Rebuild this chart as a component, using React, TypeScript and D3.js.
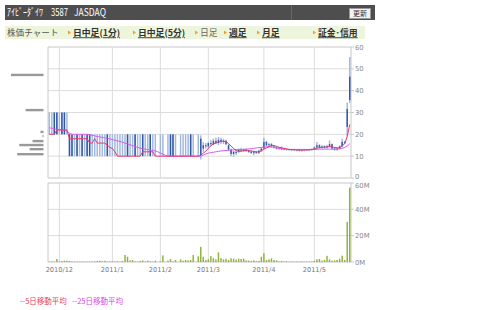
import React from "react";
import * as d3 from "d3";

const tradingDays: [string, number[]][] = [
  ["2010/11", [25, 26, 29, 30]],
  ["2010/12", [1, 2, 3, 6, 7, 8, 9, 10, 13, 14, 15, 16, 17, 20, 21, 22, 24, 27, 28, 29, 30]],
  ["2011/1", [4, 5, 6, 7, 11, 12, 13, 14, 17, 18, 19, 20, 21, 24, 25, 26, 27, 28, 31]],
  ["2011/2", [1, 2, 3, 4, 7, 8, 9, 10, 14, 15, 16, 17, 18, 21, 22, 23, 24, 25, 28]],
  ["2011/3", [1, 2, 3, 4, 7, 8, 9, 10, 11, 14, 15, 16, 17, 18, 22, 23, 24, 25, 28, 29, 30, 31]],
  ["2011/4", [1, 4, 5, 6, 7, 8, 11, 12, 13, 14, 15, 18, 19, 20, 21, 22, 25, 26, 27, 28]],
  ["2011/5", [2, 6, 9, 10, 11, 12, 13, 16, 17, 18, 19, 20, 23, 24, 25]],
];

// [open, high, low, close]
const ohlc: ([number, number, number, number] | null)[] = [
  [20, 30, 20, 20], [20, 30, 20, 20], [30, 30, 20, 20], [30, 30, 20, 20], [20, 30, 20, 20], [30, 30, 20, 20], [30, 30, 20, 20], [20, 30, 20, 20],
  [20, 20, 10, 10], [20, 20, 10, 10], [10, 20, 10, 10], [20, 20, 10, 10], [10, 20, 10, 10], [20, 20, 10, 10], [10, 20, 10, 10], [20, 20, 10, 10], [20, 20, 10, 10], [10, 20, 10, 10],
  [10, 20, 10, 10], [10, 20, 10, 10], [10, 20, 10, 10], [10, 20, 10, 10], [10, 20, 10, 10], [20, 20, 10, 10], [10, 20, 10, 10], [10, 20, 10, 10], [10, 20, 10, 10], [10, 20, 10, 10],
  [10, 20, 10, 10], [10, 20, 10, 10], [10, 20, 10, 10], [20, 20, 10, 10], [10, 20, 10, 10], [10, 20, 10, 10], [20, 20, 10, 10], [10, 20, 10, 10], [10, 20, 10, 10], [20, 20, 10, 10],
  [10, 20, 10, 10], [10, 20, 10, 10], [20, 20, 10, 10], [10, 20, 10, 10], [10, 20, 10, 10], null, [10, 20, 10, 10], [10, 20, 10, 10], null, [10, 20, 10, 10],
  [20, 20, 10, 10], [20, 20, 10, 10], [10, 20, 10, 10], null, [10, 20, 10, 10], [10, 20, 10, 10], [10, 20, 10, 10], [10, 20, 10, 10], [20, 20, 10, 10], [10, 20, 10, 10],
  null, [10, 20, 10, 10],
  [18, 19.5, 8.5, 10.5],
  [13.5, 16.5, 12, 15], [15, 16, 13.5, 14.5], [14.5, 16.5, 13.5, 16], [16, 17.5, 14.5, 15.5], [15.5, 18, 15, 17], [17, 18.5, 15.5, 16], [16, 18.8, 15, 17.5], [17.5, 18.5, 15.5, 16.5], [16.5, 18, 15.5, 17],
  [17, 17.5, 15, 15.5], [15, 15.5, 12.5, 13], [13, 13.5, 10, 11], [11, 12.5, 9.8, 12], [12, 13, 10.5, 11.5], [12, 13.5, 11.5, 13], [13, 13.8, 12, 12.5], [12.5, 13.5, 12, 13], [13, 13.5, 12, 12.5], [12.5, 13, 11.5, 12],
  [12, 12.8, 11, 11.5], [11.5, 12.5, 10.5, 12], [12, 12.5, 11, 11.5], [11.5, 13, 11, 12.5], [12.5, 14, 12, 13.5], [13.5, 18.5, 13, 16.5], [16.5, 17, 14.5, 15], [15, 16, 14, 15.5], [15.5, 16, 14, 14.5], [14.5, 15, 13.5, 14],
  [14, 14.5, 13, 13.5], [13.5, 14.2, 13, 13.2], [13.2, 14.5, 12.8, 13.5], [13.5, 13.8, 12.8, 13], [13, 13.5, 12.5, 13], [13, 13.2, 12.5, 12.8], [12.8, 13.2, 12.3, 13], [13, 13.2, 12.5, 12.7], [12.7, 13, 12.2, 12.8], [12.8, 13.2, 12.2, 12.5],
  [12.5, 13, 12.2, 12.8], [12.8, 13.2, 12.3, 13], [13, 13.2, 12.5, 12.8], [12.8, 13.2, 12.3, 13], [13, 13.5, 12.5, 13.2], [13.2, 14.5, 12.8, 14], [14, 16.5, 13.5, 15], [15, 15.5, 13.5, 14], [14, 15, 13.5, 14.5], [14.5, 15, 13.5, 14],
  [14, 15.2, 13.5, 14.5], [14.5, 17.2, 14, 15.5], [15.5, 15.8, 13, 13.5], [13.5, 14.2, 12.5, 13], [13, 14, 12.5, 13.5], [13.5, 15, 13, 14.5], [14.5, 18, 14, 16.5], [16.5, 17, 15.5, 16], [23.4, 34.5, 18.9, 31.6], [35.7, 55.4, 34.4, 46.4],
];

// volume in millions of shares
const volumeM: number[] = [
  0.3, 0.4, 0.3, 2.3, 0.4, 0.6, 1.0, 1.0, 0.8, 0.5,
  0.4, 0.3, 0.3, 0.4, 0.3, 0.3, 0.4, 0.3, 0.5, 0.8,
  1.0, 0.6, 0.9, 0.4, 0.5, 0.6, 0.4, 0.5, 0.3, 0.8,
  5.3, 4.0, 1.2, 1.5, 0.5, 0.3, 0.8, 1.2, 0.4, 1.0,
  0.6, 0.3, 1.0, 0, 0.5, 5.0, 0, 1.0, 2.2, 0.5,
  1.5, 0, 2.0, 1.0, 1.5, 1.2, 1.5, 5.3, 0, 4.3,
  11.5, 4.0, 1.5, 2.0, 4.5, 3.0, 2.0, 7.3, 3.0, 2.0,
  2.5, 1.5, 2.8, 2.5, 1.8, 2.5, 2.3, 2.5, 1.2, 1.0,
  0.8, 1.2, 0.6, 0.8, 4.0, 6.6, 1.5, 2.0, 2.8, 1.5,
  1.2, 0.5, 0.8, 0.4, 0.5, 0.3, 0.4, 0.3, 0.4, 0.3,
  0.5, 0.3, 0.4, 0.3, 0.5, 0.8, 2.0, 2.3, 1.0, 1.5,
  4.7, 2.0, 1.0, 1.2, 1.5, 2.5, 4.8, 1.5, 30.5, 56.5,
];

const ma5: number[] = [
  20, 20, 20, 22, 22, 22, 22, 22, 18, 18,
  18, 18, 18, 18, 18, 18, 16, 16, 18, 16,
  16, 16, 16, 15, 14, 13.5, 12, 10, 10, 10,
  10, 10, 10, 10, 10, 10, 10, 12, 12, 12,
  12, 12, 10, 10, 10, 10, 10, 10, 10, 10,
  10, 10, 10, 10, 10, 10, 10, 10, 10, 10,
  10.4, 11.4, 12.3, 13.5, 14.8, 15.6, 16, 16.5, 16.7, 16.9,
  16.6, 15.8, 14.6, 13.5, 12.6, 12.2, 12.3, 12.5, 12.6, 12.5,
  12.3, 12.2, 11.9, 12, 12.4, 13.2, 13.8, 14.3, 14.9, 14.9,
  14.5, 14.1, 13.8, 13.6, 13.3, 13.1, 13, 12.9, 12.9, 12.8,
  12.8, 12.8, 12.8, 12.9, 13, 13.3, 13.7, 13.9, 14, 14.1,
  14.2, 14.4, 14.2, 14, 13.8, 13.9, 14.7, 15.7, 19, 24.5,
];

const ma25: number[] = [
  23, 22.8, 22.5, 22.3, 22.1, 22, 22, 21.5, 20.5, 20,
  20, 20, 20, 20, 20, 20, 19.8, 19.6, 19.3, 19,
  18.8, 18.6, 18.4, 18.2, 17.9, 17.6, 17.3, 17, 16.7, 16.4,
  16, 15.6, 15.2, 14.8, 14.4, 14, 13.7, 13.4, 13.2, 13,
  12.8, 12.6, 12.4, 12, 11.4, 10.9, 10.4, 10, 10, 10,
  10, 10, 10, 10, 10, 10, 10, 10, 10, 10,
  10, 10.5, 11, 11.4, 11.6, 11.8, 12, 12.2, 12.4, 12.5,
  12.6, 12.7, 12.8, 12.9, 13, 13, 13.1, 13.1, 13.2, 13.3,
  13.4, 13.6, 13.8, 13.9, 14, 14.2, 14.3, 14.3, 14.2, 14,
  13.8, 13.6, 13.4, 13.3, 13.2, 13.1, 13.1, 13.1, 13.1, 13.1,
  13.1, 13.1, 13.1, 13.1, 13.1, 13.1, 13.1, 13.2, 13.2, 13.2,
  13.2, 13.2, 13.2, 13.2, 13.3, 13.4, 13.6, 14, 14.7, 15.7,
];

const priceTicks = [0, 10, 20, 30, 40, 50, 60];
const volumeTicks = [0, 20, 40, 60];

// volume by price (price level, volume in millions)
const vbpPrice = [47.2, 31.1, 21.1, 19.2, 16.9, 15.1, 13.2, 10.9];
const vbpVolume = [56.5, 31, 5.2, 1.7, 19, 42, 24, 45.6];

const titleParts = [
  { text: "ｱｲﾋﾞｰﾀﾞｲﾜ", x: 7, len: 36 },
  { text: "3587", x: 51, len: 17 },
  { text: "JASDAQ", x: 74, len: 32 },
];
const navItems = [
  { label: "日中足(1分)", x: 68, link: true },
  { label: "日中足(5分)", x: 133, link: true },
  { label: "日足", x: 195, link: false },
  { label: "週足", x: 224, link: true },
  { label: "月足", x: 257, link: true },
  { label: "証金･信用", x: 313, link: true },
];
const legendItems = [
  { label: "--5日移動平均", color: "#e8386a", x: 20 },
  { label: "--25日移動平均", color: "#d447e8", x: 72 },
];

const JP = "'Noto Sans CJK JP', sans-serif";
const NUM = "'DejaVu Sans', sans-serif";

export default function App() {
  const W = 480;
  const H = 310;
  const L = 48;
  const R = 351;
  const days = tradingDays.flatMap(([m, ds]) => ds.map((d) => `${m}/${d}`));
  const x = d3.scaleBand<string>().domain(days).range([L, R]);
  const bw = x.bandwidth();
  const cx = (i: number) => (x(days[i]) as number) + bw / 2;
  const yP = d3.scaleLinear().domain([0, 60]).range([178, 47]);
  const yV = d3.scaleLinear().domain([0, 60]).range([262, 183]);
  const monthStarts = tradingDays.slice(1).map(([m, ds]) => ({ label: m, day: `${m}/${ds[0]}` }));
  const vbpW = d3.scaleLinear().domain([0, 56.5]).range([0, 32.6]);

  const lineGen = (vals: number[]) =>
    d3.line<number>().x((_, i) => cx(i)).y((v) => yP(v))(vals) || "";

  const grid = "#dcdcdc";
  const border = "#c8c8c8";
  const bodyW = bw * 0.58;

  return (
    <svg width={W} height={H} style={{ position: "absolute", left: 0, top: 0, background: "#fff" }}>
      {/* title bar */}
      <rect x={5} y={5} width={370} height={15} fill="#4e4e4e" />
      <line x1={291.5} x2={291.5} y1={5} y2={20} stroke="#666" />
      {titleParts.map((p) => (
        <text key={p.text} x={p.x} y={16} fill="#fff" fontSize={10} fontFamily={JP} textLength={p.len} lengthAdjust="spacingAndGlyphs">{p.text}</text>
      ))}
      <rect x={349.5} y={8.5} width={21} height={10} fill="#f2f2f2" stroke="#999" />
      <text x={360} y={16.3} fill="#333" fontSize={7} textAnchor="middle" fontFamily={JP}>更新</text>

      {/* nav bar */}
      <rect x={5} y={26} width={360} height={13} fill="#eef5dd" />
      <text x={7} y={36} fill="#555" fontSize={8.6} fontFamily={JP}>株価チャート</text>
      {navItems.map((n) => (
        <g key={n.label}>
          <polygon points={`${n.x},${30.5} ${n.x + 3},${32.5} ${n.x},${34.5}`} fill="#f0a030" />
          <text
            x={n.x + 5}
            y={36.3}
            fill={n.link ? "#333" : "#666"}
            fontSize={8.8}
            fontWeight={n.link ? "bold" : "normal"}
            textDecoration={n.link ? "underline" : "none"}
            fontFamily={JP}
          >
            {n.label}
          </text>
        </g>
      ))}

      {/* price panel grid */}
      {priceTicks.map((t) => (
        <g key={"p" + t}>
          <line x1={L} x2={R} y1={yP(t)} y2={yP(t)} stroke={t === 0 || t === 60 ? border : grid} />
          <line x1={R} x2={R + 3} y1={yP(t)} y2={yP(t)} stroke={border} />
          <text x={R + 4} y={yP(t) + (t === 0 ? 1.2 : 2.5)} fontSize={6.8} fill="#888" fontFamily={NUM}>{t}</text>
        </g>
      ))}
      {monthStarts.map((m) => (
        <line key={"gv" + m.label} x1={(x(m.day) as number) + bw / 2} x2={(x(m.day) as number) + bw / 2} y1={47} y2={178} stroke={grid} />
      ))}
      <line x1={L} x2={L} y1={47} y2={178} stroke={border} />
      <line x1={R} x2={R} y1={47} y2={178} stroke={border} />

      {/* volume panel grid */}
      {volumeTicks.map((t) => (
        <g key={"v" + t}>
          <line x1={L} x2={R} y1={yV(t)} y2={yV(t)} stroke={t === 0 || t === 60 ? border : grid} />
          <line x1={R} x2={R + 3} y1={yV(t)} y2={yV(t)} stroke={border} />
          <text x={R + 4} y={yV(t) + (t === 60 ? 4.6 : 2.5)} fontSize={6.8} fill="#888" fontFamily={NUM}>{t}M</text>
        </g>
      ))}
      {monthStarts.map((m) => (
        <g key={"gvv" + m.label}>
          <line x1={(x(m.day) as number) + bw / 2} x2={(x(m.day) as number) + bw / 2} y1={183} y2={262} stroke={grid} />
          <text x={(x(m.day) as number) + bw / 2} y={272} fontSize={6.6} fill="#777" textAnchor="middle" fontFamily={NUM}>{m.label}</text>
        </g>
      ))}
      <line x1={L} x2={L} y1={183} y2={262} stroke={border} />
      <line x1={R} x2={R} y1={183} y2={262} stroke={border} />

      {/* volume by price */}
      {vbpPrice.map((p, i) => (
        <rect key={"vbp" + i} x={43.5 - vbpW(vbpVolume[i])} y={yP(p) - 1.2} width={vbpW(vbpVolume[i])} height={2.4} fill="#999" />
      ))}

      {/* candles */}
      {ohlc.map((c, i) => {
        if (!c) return null;
        const [o, h, l, cl] = c;
        const top = yP(Math.max(o, cl));
        const bot = yP(Math.min(o, cl));
        return (
          <g key={"c" + i}>
            <rect x={cx(i) - bodyW / 2} y={yP(h)} width={bodyW} height={Math.max(1, yP(l) - yP(h))} fill="#a2b8e0" />
            {bot - top > 0.2 && (
              <rect x={cx(i) - bodyW / 2} y={top} width={bodyW} height={bot - top} fill="#3158a8" />
            )}
          </g>
        );
      })}

      {/* moving averages */}
      <path d={lineGen(ma25)} fill="none" stroke="#dc5cf0" strokeWidth={1} />
      <path d={lineGen(ma5)} fill="none" stroke="#e8386a" strokeWidth={1} />

      {/* volume bars */}
      {volumeM.map((v, i) =>
        v > 0 ? (
          <rect key={"vb" + i} x={cx(i) - bodyW / 2} y={yV(v)} width={bodyW} height={yV(0) - yV(v)} fill="#8db43a" />
        ) : null
      )}

      {/* legend */}
      {legendItems.map((it) => (
        <text key={it.label} x={it.x} y={304} fontSize={7.5} fill={it.color} fontFamily={JP}>{it.label}</text>
      ))}
    </svg>
  );
}
